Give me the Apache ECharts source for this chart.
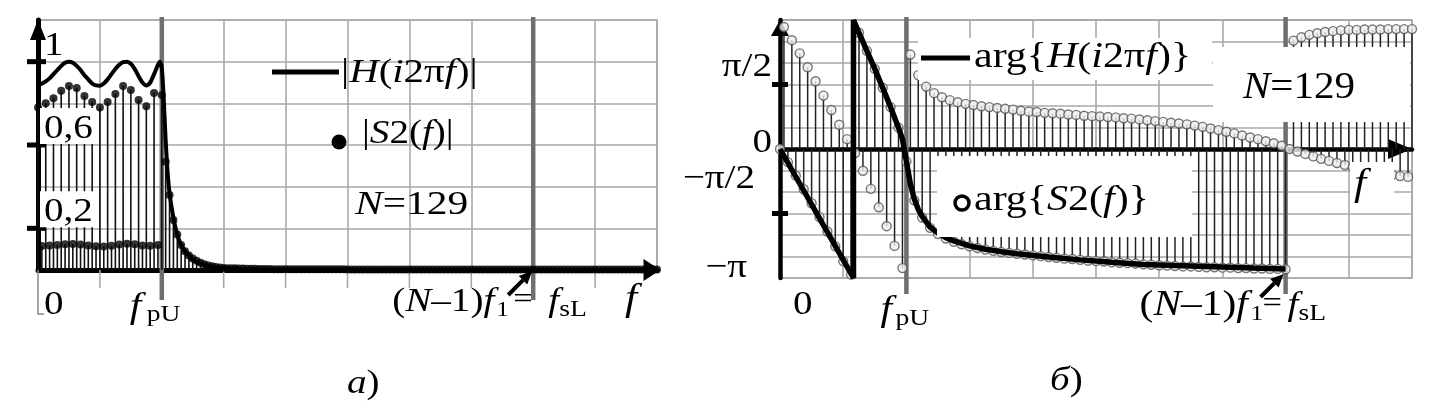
<!DOCTYPE html>
<html><head><meta charset="utf-8">
<script src="https://cdn.jsdelivr.net/npm/echarts@6/dist/echarts.min.js"></script>
<style>html,body{margin:0;padding:0;background:#fff}#c{width:1436px;height:407px}</style>
</head><body><div id="c"></div>
<script>
// ---------- DATA ----------
// sample index k = f / f1, k = 0..160
const S2mag = [
0.78,0.115,0.80,0.118,0.825,0.12,0.86,0.124,0.883,0.125,
0.874,0.122,0.835,0.118,0.806,0.114,0.78,0.113,0.806,0.116,
0.845,0.122,0.883,0.126,0.864,0.124,0.816,0.118,0.786,0.116,
0.85,0.12,0.84,0.52,0.36,0.24,0.17,0.12,0.09,0.07,
0.055,0.045,0.035,0.028,0.022,0.018,0.015,0.012,0.010,0.009,
0.008,0.008,0.007,0.007,0.006,0.006,0.006,0.005,0.005,0.005,
0.005,0.004,0.004,0.004,0.004,0.004,0.004,0.004,0.004,0.004,
0.004,0.004,0.004,0.004,0.004,0.004,0.004,0.004,0.004,0.004,
0.003,0.003,0.003,0.003,0.003,0.003,0.003,0.003,0.003,0.003,
0.003,0.003,0.003,0.003,0.003,0.003,0.003,0.003,0.003,0.003,
0.003,0.003,0.003,0.003,0.003,0.003,0.003,0.003,0.003,0.003,
0.003,0.003,0.003,0.003,0.003,0.003,0.003,0.003,0.003,0.003,
0.003,0.003,0.003,0.003,0.003,0.003,0.003,0.003,0.003,0.003,
0.003,0.003,0.003,0.003,0.003,0.003,0.003,0.003,0.003,0.003,
0.003,0.003,0.003,0.003,0.003,0.003,0.003,0.003,0.003,0.003,
0.003,0.003,0.003,0.003,0.003,0.003,0.003,0.003,0.003,0.003,
0.003
];
const Hk   = [0,1,2,3,4,5,6,7,8,9,10,11,12,13,14,15,16,17,18,19,20,21,22,23,24,25,26,27,28,29,30,31,31.5,32,32.5,33,33.5,34,35,36,37,38,39,40,42,44,46,48,52,60,80,160];
const Hmag = [0.89,0.895,0.905,0.92,0.94,0.96,0.98,0.995,1.0,0.995,0.98,0.96,0.935,0.915,0.895,0.886,0.885,0.895,0.915,0.94,0.965,0.985,0.998,1.0,0.99,0.965,0.93,0.9,0.886,0.9,0.94,0.985,1.0,0.97,0.82,0.62,0.47,0.37,0.25,0.17,0.12,0.09,0.07,0.05,0.03,0.018,0.011,0.007,0.004,0.002,0.001,0];
const S2ph = [
0,2.97,-0.32,2.65,-0.65,2.33,-0.98,1.99,-1.32,1.65,
-1.66,1.30,-2.01,0.95,-2.37,0.59,-2.73,0.24,-3.06,-0.10,
2.83,-0.53,2.39,-0.97,1.95,-1.42,1.49,-1.88,1.02,-2.36,
0.52,-2.90,-0.30,2.30,-1.25,1.80,-1.67,1.52,-1.92,1.36,
-2.07,1.26,-2.18,1.19,-2.26,1.14,-2.32,1.10,-2.37,1.07,
-2.41,1.04,-2.45,1.02,-2.48,1.00,-2.51,0.98,-2.53,0.96,
-2.55,0.93,-2.57,0.91,-2.59,0.90,-2.61,0.88,-2.63,0.87,
-2.65,0.86,-2.67,0.84,-2.68,0.83,-2.70,0.81,-2.72,0.80,
-2.73,0.79,-2.74,0.78,-2.76,0.77,-2.77,0.75,-2.78,0.74,
-2.79,0.72,-2.81,0.70,-2.82,0.68,-2.83,0.66,-2.84,0.64,
-2.85,0.62,-2.86,0.60,-2.86,0.57,-2.87,0.54,-2.88,0.50,
-2.88,0.46,-2.89,0.42,-2.89,0.38,-2.90,0.33,-2.90,0.28,
-2.91,0.24,-2.91,0.19,-2.92,0.14,-2.92,0.08,-2.93,0.00,
2.64,-0.06,2.72,-0.12,2.78,-0.18,2.82,-0.24,2.85,-0.29,
2.87,-0.34,2.89,-0.39,2.90,-0.44,2.90,-0.49,2.91,-0.53,
2.91,-0.57,2.91,-0.60,2.92,-0.63,2.92,-0.66,2.92,-0.68,
2.92
];
const HphK = [0,18.6,18.6,20,22,24,26,28,30,31,32,33,34,35,36,38,40,42,44,48,52,56,60,68,76,84,92,100,110,120,128];
const Hph  = [0,-3.14,3.14,2.83,2.39,1.95,1.49,1.02,0.52,0.24,-0.30,-0.85,-1.22,-1.47,-1.64,-1.90,-2.05,-2.16,-2.24,-2.36,-2.44,-2.50,-2.55,-2.63,-2.70,-2.76,-2.81,-2.84,-2.87,-2.90,-2.92];
const fMarks = [32, 128];                 // f_pU, (N-1)f1 = f_sL
const magTicks = [0.2, 0.6, 1];
const magTickLabels = ['0,2', '0,6', '1'];
const phTicks = [-Math.PI/2, Math.PI/2];
const phLabelVals = [-Math.PI, -Math.PI/2, 0, Math.PI/2];
const phLabels = ['\u2212\u03c0', '\u2212\u03c0/2', '0', '\u03c0/2'];

// ---------- LAYOUT ----------
const SERIF = '"Liberation Serif","Times New Roman",serif';
const SX = 1.15;
const GRIDC = '#a9a9a9';
const chart = echarts.init(document.getElementById('c'), null, {renderer:'canvas'});

function stem(color, w) {
  return (p, api) => {
    const a = api.coord([api.value(0), 0]), b = api.coord([api.value(0), api.value(1)]);
    return {type:'line', shape:{x1:a[0], y1:a[1], x2:b[0], y2:b[1]}, style:{stroke:color, lineWidth:w}};
  };
}
function marker(yTop, yBot, extTop, extBot) {
  return (p, api) => {
    const a = api.coord([api.value(0), yTop]), b = api.coord([api.value(0), yBot]);
    return {type:'line', shape:{x1:a[0], y1:a[1]-extTop, x2:b[0], y2:b[1]+extBot}, style:{stroke:'#6f6f6f', lineWidth:4.5}};
  };
}
function tickBar(l, r) {
  return (p, api) => {
    const a = api.coord([0, api.value(1)]);
    return {type:'rect', shape:{x:a[0]-l, y:a[1]-2.5, width:l+r, height:5}, style:{fill:'#000'}};
  };
}
const gridExt = [];
for (let v = 16; v < 160; v += 16) gridExt.push([v, 0]);

const axisCommon = {axisTick:{show:false}, axisLabel:{show:false}};
const option = {
  animation:false,
  backgroundColor:'#fff',
  grid:[
    {left:38, top:20, width:619, height:250, show:true, borderColor:GRIDC, borderWidth:1.5, backgroundColor:'transparent'},
    {left:780, top:20, width:632, height:258, show:true, borderColor:GRIDC, borderWidth:1.5, backgroundColor:'transparent'}
  ],
  xAxis:[
    Object.assign({type:'value', gridIndex:0, min:0, max:160, interval:16,
      splitLine:{show:true, lineStyle:{color:GRIDC, width:1.6}},
      axisLine:{show:true, onZero:false, symbol:['none','triangle'], symbolSize:[22,17], symbolOffset:[0,-5],
        lineStyle:{color:'#000', width:5}}}, axisCommon),
    Object.assign({type:'value', gridIndex:1, min:0, max:160, interval:16,
      splitLine:{show:true, lineStyle:{color:GRIDC, width:1.6}},
      axisLine:{show:true, onZero:true, symbol:['none','triangle'], symbolSize:[20,24], symbolOffset:[0,-12],
        lineStyle:{color:'#000', width:4.5}}}, axisCommon)
  ],
  yAxis:[
    Object.assign({type:'value', gridIndex:0, min:0, max:1.2, interval:0.2,
      splitLine:{show:true, lineStyle:{color:GRIDC, width:1.6}},
      axisLine:{show:true, onZero:false, symbol:['none','triangle'], symbolSize:[16,20], symbolOffset:[0,-10],
        lineStyle:{color:'#000', width:5}}}, axisCommon),
    Object.assign({type:'value', gridIndex:1, min:-Math.PI, max:Math.PI, interval:Math.PI/6,
      splitLine:{show:true, lineStyle:{color:GRIDC, width:1.6}},
      axisLine:{show:true, onZero:false, symbol:['none','triangle'], symbolSize:[18,16], symbolOffset:[0,-8],
        lineStyle:{color:'#000', width:4.5}}}, axisCommon)
  ],
  series:[
    {type:'custom', xAxisIndex:0, yAxisIndex:0, data:gridExt, clip:false, z:1, silent:true,
      renderItem:(p, api) => { const a = api.coord([api.value(0), 0]);
        return {type:'line', shape:{x1:a[0], y1:a[1], x2:a[0], y2:a[1]+18}, style:{stroke:GRIDC, lineWidth:1.6}}; }},
    {type:'custom', xAxisIndex:0, yAxisIndex:0, data:fMarks.map(v=>[v,0]), clip:false, z:2, renderItem:marker(1.2, 0, 3, 30)},
    {type:'custom', xAxisIndex:0, yAxisIndex:0, data:S2mag.map((v,k)=>[k,v]), z:3, renderItem:stem('#111', 1.6)},
    {type:'line', xAxisIndex:0, yAxisIndex:0, data:Hk.map((k,i)=>[k,Hmag[i]]), showSymbol:false, smooth:0.25,
      lineStyle:{color:'#000', width:4}, z:4},
    {type:'scatter', xAxisIndex:0, yAxisIndex:0, data:S2mag.map((v,k)=>[k,v]), symbolSize:8,
      itemStyle:{color:'#000'}, z:5},
    {type:'custom', xAxisIndex:0, yAxisIndex:0, data:magTicks.map(v=>[0,v]), clip:false, z:6, renderItem:tickBar(11,8)},

    {type:'custom', xAxisIndex:1, yAxisIndex:1, data:fMarks.map(v=>[v,0]), clip:false, z:2, renderItem:marker(Math.PI, -Math.PI, 3, 16)},
    {type:'custom', xAxisIndex:1, yAxisIndex:1, data:S2ph.map((v,k)=>[k,v]), z:3, renderItem:stem('#222', 1.5)},
    {type:'scatter', xAxisIndex:1, yAxisIndex:1, data:S2ph.map((v,k)=>[k,v]), symbolSize:9,
      itemStyle:{color:'#eeeeee', borderColor:'#555', borderWidth:1.4}, z:4},
    {type:'line', xAxisIndex:1, yAxisIndex:1, data:HphK.map((k,i)=>[k,Hph[i]]), showSymbol:false,
      lineStyle:{color:'#000', width:5.5}, z:5},
    {type:'custom', xAxisIndex:1, yAxisIndex:1, data:phTicks.map(v=>[0,v]), clip:false, z:6, renderItem:tickBar(8,8)}
  ]
};
chart.setOption(option);

// ---------- ANNOTATIONS ----------
const P0 = (x,y) => chart.convertToPixel({gridIndex:0}, [x,y]);
const P1 = (x,y) => chart.convertToPixel({gridIndex:1}, [x,y]);
function R(size){ return {n:{fontFamily:SERIF, fontSize:size}, i:{fontFamily:SERIF, fontSize:size, fontStyle:'italic'}}; }
function txt(x, y, text, size, o) {
  o = o || {};
  return {type:'text', x:x, y:y, scaleX:(o.sx==null?SX:o.sx), z:100,
    style:{text:text, fontFamily:SERIF, fontSize:size, fontStyle:o.italic?'italic':'normal', fill:'#000',
      align:o.align||'left', verticalAlign:'middle', rich:R(size)}};
}
function box(x1,y1,x2,y2){ return {type:'rect', z:90, shape:{x:x1, y:y1, width:x2-x1, height:y2-y1}, style:{fill:'#fff'}}; }
function arrow(x1,y1,x2,y2){
  const dx=x2-x1, dy=y2-y1, L=Math.hypot(dx,dy), ux=dx/L, uy=dy/L, hl=13, hw=6;
  const bx=x2-ux*hl, by=y2-uy*hl;
  return [
    {type:'line', z:95, shape:{x1:x1,y1:y1,x2:bx,y2:by}, style:{stroke:'#000', lineWidth:4}},
    {type:'polygon', z:95, shape:{points:[[x2,y2],[bx-uy*hw,by+ux*hw],[bx+uy*hw,by-ux*hw]]}, style:{fill:'#000'}}
  ];
}
const g = [];
// left tick labels
const lx = P0(0,0)[0];
magTicks.forEach((v,i) => {
  const p = P0(0, v);
  if (v < 1) g.push(box(lx+2, p[1]-37, lx+58, p[1]-1));
  g.push(txt(lx+6, p[1]-16, magTickLabels[i], 34));
});
// right tick labels
const phOff = [[-33,-10],[-25,-34],[-8,-6],[-8,-17]];
phLabelVals.forEach((v,i) => {
  const p = P1(0, v);
  g.push(txt(p[0]+phOff[i][0], p[1]+phOff[i][1], phLabels[i], 34, {align:'right'}));
});
// left panel texts
const z0 = P0(0,0);
g.push({type:'polyline', z:80, shape:{points:[[z0[0],z0[1]],[z0[0],z0[1]+44],[z0[0]+6,z0[1]+44]]}, style:{stroke:'#888', lineWidth:1.5, fill:null}});
g.push(txt(z0[0]+6, z0[1]+35, '0', 34));
const fp0 = P0(fMarks[0], 0);
g.push(txt(fp0[0]-32, fp0[1]+38, 'f', 36, {italic:true}));
g.push(txt(fp0[0]-15, fp0[1]+45, 'pU', 24));
const fs0 = P0(fMarks[1], 0);
g.push(txt(fs0[0]-141, fs0[1]+32, '({i|N}{n|\u20131)}{i|f}', 34));
g.push(txt(fs0[0]-37, fs0[1]+40, '1', 22));
g.push(txt(fs0[0]-20, fs0[1]+30, '=', 30));
g.push(txt(fs0[0]+15, fs0[1]+32, 'f', 34, {italic:true}));
g.push(txt(fs0[0]+26, fs0[1]+40, 'sL', 24));
g.push.apply(g, arrow(fs0[0]-25, fs0[1]+25, fs0[0]-1, fs0[1]+1));
g.push(txt(625, 300, 'f', 38, {italic:true}));
// left legend
g.push({type:'line', z:95, shape:{x1:272,y1:72,x2:339,y2:72}, style:{stroke:'#000', lineWidth:5}});
g.push(txt(341, 73, '{n||}{i|H}{n|(}{i|i}{n|2\u03c0}{i|f}{n|)|}', 34, {sx:1.2}));
g.push({type:'circle', z:95, shape:{cx:339, cy:142, r:7.5}, style:{fill:'#000'}});
g.push(txt(362, 134, '{n||}{i|S}{n|2(}{i|f}{n|)|}', 34));
g.push(txt(355, 205, '{i|N}{n|=129}', 34, {sx:1.22}));
// right panel texts
g.push(box(918, 38, 1212, 80));
g.push({type:'line', z:95, shape:{x1:921,y1:58,x2:970,y2:58}, style:{stroke:'#000', lineWidth:5}});
g.push(txt(974, 58, '{n|arg\u007b}{i|H}{n|(}{i|i}{n|2\u03c0}{i|f}{n|)\u007d}', 35, {sx:1.2}));
g.push(box(937, 156, 1192, 237));
g.push({type:'circle', z:95, shape:{cx:962, cy:203, r:7}, style:{fill:'#fff', stroke:'#000', lineWidth:3.5}});
g.push(txt(974, 201, '{n|arg\u007b}{i|S}{n|2(}{i|f}{n|)\u007d}', 35, {sx:1.2}));
g.push(box(1213, 47, 1410, 122));
g.push(txt(1243, 88, '{i|N}{n|=129}', 38, {sx:1.08}));
g.push(box(1350, 162, 1394, 206));
g.push(txt(1354, 185, 'f', 38, {italic:true}));
const z1 = P1(0, -Math.PI);
g.push(txt(z1[0]+13, z1[1]+27, '0', 34));
const fp1 = P1(fMarks[0], -Math.PI);
g.push(txt(fp1[0]-26, fp1[1]+33, 'f', 36, {italic:true}));
g.push(txt(fp1[0]-11, fp1[1]+41, 'pU', 24));
const fs1 = P1(fMarks[1], -Math.PI);
g.push(txt(fs1[0]-146, fs1[1]+28, '({i|N}{n|\u20131)}{i|f}', 36));
g.push(txt(fs1[0]-35, fs1[1]+36, '1', 22));
g.push(txt(fs1[0]-23, fs1[1]+26, '=', 30));
g.push(txt(fs1[0]+2, fs1[1]+28, 'f', 34, {italic:true}));
g.push(txt(fs1[0]+13, fs1[1]+36, 'sL', 24));
g.push.apply(g, arrow(fs1[0]-25, fs1[1]+19, fs1[0]-2, fs1[1]-4));
// captions
g.push(txt(347, 384, '{i|a})', 34));
g.push(txt(1050, 381, '{i|\u0431})', 34));
chart.setOption({graphic:g});
</script>
</body></html>
